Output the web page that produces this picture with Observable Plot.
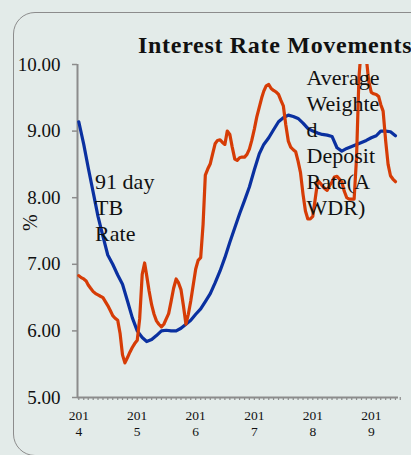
<!DOCTYPE html>
<html>
<head>
<meta charset="utf-8">
<script src="https://cdn.jsdelivr.net/npm/d3@7"></script>
<script src="https://cdn.jsdelivr.net/npm/@observablehq/plot@0.6"></script>
<style>
  html, body { margin: 0; padding: 0; }
  body { width: 411px; height: 455px; overflow: hidden; position: relative; background: #e3ebe9; font-family: "Liberation Serif", serif; }
  #frame { position: absolute; left: 13px; top: 12px; width: 440px; height: 444px; border: 1.5px solid #8c8c8c; border-radius: 22px; box-sizing: border-box; }
  #chart { position: absolute; left: 0; top: 0; }
  #title { position: absolute; left: 138px; top: 33px; font: bold 24px/24px "Liberation Serif", serif; letter-spacing: 0.7px; white-space: nowrap; color: #111; }
</style>
</head>
<body>
<div id="frame"></div>
<div id="chart"></div>
<div id="title">Interest Rate Movements</div>
<script>
// ---- data ----
// 91 day TB rate, semi-monthly from Jan 2014 (1st and 16th of each month)
const tbRate = [
  6.83, 6.80, 6.78, 6.75, 6.69, 6.64, 6.59, 6.56, 6.54, 6.52,
  6.50, 6.44, 6.38, 6.31, 6.23, 6.19, 6.16, 5.96, 5.64, 5.52,
  5.60, 5.68, 5.75, 5.81, 5.86, 6.18, 6.85, 7.02, 6.83, 6.60,
  6.39, 6.25, 6.15, 6.10, 6.06, 6.10, 6.18, 6.26, 6.45, 6.64,
  6.78, 6.72, 6.62, 6.38, 6.10, 6.25, 6.45, 6.68, 6.93, 7.06,
  7.10, 7.60, 8.34, 8.43, 8.51, 8.66, 8.81, 8.86, 8.87, 8.83,
  8.80, 9.00, 8.95, 8.76, 8.58, 8.56, 8.60, 8.61, 8.61, 8.65,
  8.73, 8.86, 9.03, 9.21, 9.36, 9.50, 9.60, 9.68, 9.70, 9.64,
  9.61, 9.59, 9.55, 9.46, 9.38, 9.10, 8.85, 8.76, 8.72, 8.69,
  8.55, 8.38, 8.05, 7.80, 7.68, 7.68, 7.72, 7.98, 8.26, 8.22,
  8.18, 8.14, 8.11, 8.18, 8.24, 8.31, 8.32, 8.28, 8.24, 8.10,
  8.00, 7.98, 7.98, 7.98, 8.60, 9.80, 10.30, 10.30, 10.10, 9.75,
  9.58, 9.56, 9.55, 9.52, 9.40, 9.30, 8.85, 8.50, 8.33, 8.28,
  8.24
];
// Average Weighted Deposit Rate (AWDR), monthly from Jan 2014
const awdr = [
  9.14, 8.80, 8.45, 8.08, 7.72, 7.42, 7.14, 7.00, 6.84, 6.70,
  6.45, 6.20, 6.00, 5.90, 5.84, 5.87, 5.93, 6.00, 6.01, 6.00,
  6.00, 6.04, 6.10, 6.16, 6.25, 6.33, 6.44, 6.56, 6.72, 6.90,
  7.10, 7.33, 7.55, 7.76, 7.96, 8.16, 8.42, 8.66, 8.80, 8.90,
  9.02, 9.14, 9.20, 9.24, 9.22, 9.19, 9.12, 9.04, 9.00, 8.97,
  8.95, 8.94, 8.92, 8.75, 8.70, 8.74, 8.77, 8.80, 8.83, 8.86,
  8.90, 8.93, 9.00, 9.00, 8.99, 8.93
];
const years = [2014, 2015, 2016, 2017, 2018, 2019];
const yTicks = [5, 6, 7, 8, 9, 10];
const labelText = ["91 day\nTB\nRate", "Average\nWeighte\nd\nDeposit\nRate(A\nWDR)"];
const labelDate = [new Date(Date.UTC(2014, 3, 13)), new Date(Date.UTC(2017, 10, 23))];
const labelValue = [8.40, 9.97];

// ---- tables ----
const tbData = tbRate.map((v, k) => ({date: new Date(Date.UTC(2014, Math.floor(k / 2), k % 2 ? 16 : 1)), value: v}));
const awdrData = awdr.map((v, i) => ({date: new Date(Date.UTC(2014, i, 1)), value: v}));
const monthTicks = d3.range(0, 67).map(i => new Date(Date.UTC(2014, i, 1)));
const yearTicks = years.map(y => new Date(Date.UTC(y, 0, 1)));
const labels = labelText.map((t, i) => ({text: t, date: labelDate[i], value: labelValue[i]}));
const xDomain = [new Date(Date.UTC(2013, 11, 24)), new Date(Date.UTC(2019, 5, 20))];

const axisGray = "#8c8c8c";
const chart = Plot.plot({
  width: 411,
  height: 455,
  marginLeft: 77,
  marginRight: 13,
  marginTop: 64,
  marginBottom: 58,
  style: {background: "transparent", fontFamily: "Liberation Serif, serif", color: "#111", overflow: "visible"},
  x: {type: "utc", domain: xDomain, label: null},
  y: {domain: [5, 10], label: null},
  marks: [
    Plot.ruleX([xDomain[0]], {stroke: axisGray, strokeWidth: 2}),
    Plot.ruleY([5], {stroke: axisGray, strokeWidth: 2}),
    Plot.axisY({ticks: yTicks, tickFormat: d3.format(".2f"), label: null, tickSize: 5, tickPadding: 12, fontSize: 19, stroke: axisGray, strokeWidth: 1.5, fill: "#111"}),
    Plot.axisX(monthTicks, {tickSize: 3, tickFormat: () => "", label: null, stroke: axisGray, strokeWidth: 1.2}),
    Plot.axisX(yearTicks, {tickSize: 0, tickPadding: 11, fontSize: 13.5, lineHeight: 1.2, fill: "#111", label: null,
      tickFormat: d => { const s = String(d.getUTCFullYear()); return s.slice(0, 3) + "\n" + s.slice(3); }}),
    Plot.text(["%"], {frameAnchor: "left", dx: -47, rotate: -90, fontSize: 20, fill: "#111"}),
    Plot.line(awdrData, {x: "date", y: "value", stroke: "#0a30a0", strokeWidth: 3.2, strokeLinejoin: "round", clip: true}),
    Plot.line(tbData, {x: "date", y: "value", stroke: "#d63c06", strokeWidth: 3.2, strokeLinejoin: "round", clip: true}),
    Plot.text(labels, {x: "date", y: "value", text: "text", textAnchor: "start", lineAnchor: "top", fontSize: 22, lineHeight: 1.18, fill: "#111"})
  ]
});
document.getElementById("chart").appendChild(chart);
</script>
</body>
</html>
